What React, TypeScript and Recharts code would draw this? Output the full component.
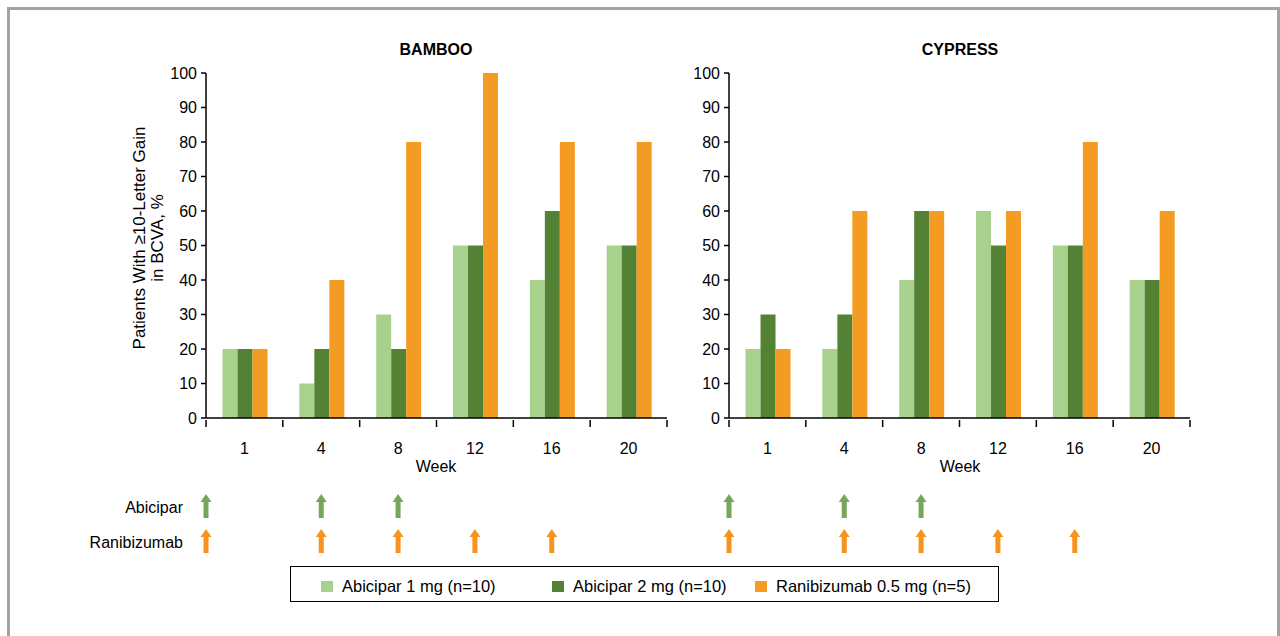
import { BarChart, Bar, XAxis, YAxis } from 'recharts'

const weeks = ['1', '4', '8', '12', '16', '20']
const yTicks = [0, 10, 20, 30, 40, 50, 60, 70, 80, 90, 100]

const bambooAbi1 = [20, 10, 30, 50, 40, 50]
const bambooAbi2 = [20, 20, 20, 50, 60, 50]
const bambooRani = [20, 40, 80, 100, 80, 80]

const cypressAbi1 = [20, 20, 40, 60, 50, 40]
const cypressAbi2 = [30, 30, 60, 50, 50, 40]
const cypressRani = [20, 60, 60, 60, 80, 60]

// dosing visits, week 0 = baseline (left edge of the axis)
const abiciparDoseWeeks = [0, 4, 8]
const ranibizumabDoseWeeks = [0, 4, 8, 12, 16]

const seriesNames = ['Abicipar 1 mg (n=10)', 'Abicipar 2 mg (n=10)', 'Ranibizumab 0.5 mg (n=5)']
const seriesColors = ['#a9d18e', '#548235', '#f39b22']
const arrowGreen = '#77a55a'
const arrowOrange = '#f7941d'

// legend swatch x positions inside the page
const legendLeft = [321, 552, 755]

const FONT = 'Arial, "Liberation Sans", sans-serif'

const buildRows = (a: number[], b: number[], c: number[]) =>
  weeks.map((w, i) => ({ week: w, abi1: a[i], abi2: b[i], rani: c[i] }))

const bambooData = buildRows(bambooAbi1, bambooAbi2, bambooRani)
const cypressData = buildRows(cypressAbi1, cypressAbi2, cypressRani)

function Arrow({ cx, top, color }: { cx: number; top: number; color: string }) {
  const d = `M${cx} ${top} L${cx + 5.5} ${top + 8} L${cx + 2.5} ${top + 8} L${cx + 2.5} ${top + 24} L${cx - 2.5} ${top + 24} L${cx - 2.5} ${top + 8} L${cx - 5.5} ${top + 8} Z`
  return <path d={d} fill={color} />
}

function WeekTick(props: any) {
  const { x, y, payload, index, width } = props
  const n = weeks.length
  const band = typeof width === 'number' && width > 0 ? width / n : (payload?.offset || 38.4) * 2
  const left = x - band / 2
  const wk = Number(payload.value)
  const arrows: any[] = []
  const addArrows = (doses: number[], top: number, color: string, key: string) => {
    if (index === 0 && doses.includes(0)) arrows.push(<Arrow key={key + 'b'} cx={left} top={top} color={color} />)
    if (wk !== 1 && doses.includes(wk)) arrows.push(<Arrow key={key} cx={x} top={top} color={color} />)
  }
  addArrows(abiciparDoseWeeks, y + 74, arrowGreen, 'a')
  addArrows(ranibizumabDoseWeeks, y + 109, arrowOrange, 'r')
  return (
    <g>
      <line x1={left} x2={left} y1={y} y2={y + 7} stroke="#000" strokeWidth={1.5} />
      {index === n - 1 && <line x1={x + band / 2} x2={x + band / 2} y1={y} y2={y + 7} stroke="#000" strokeWidth={1.5} />}
      <text x={x} y={y + 34} textAnchor="middle" fontSize={16} fill="#000" fontFamily={FONT}>
        {payload.value}
      </text>
      {arrows}
    </g>
  )
}

function Panel({ data, width, marginLeft, marginRight }: { data: any[]; width: number; marginLeft: number; marginRight: number }) {
  return (
    <BarChart
      width={width}
      height={570}
      data={data}
      margin={{ top: 73, right: marginRight, bottom: 122, left: marginLeft }}
      barCategoryGap="21.5%"
      barGap={0}
    >
      <XAxis
        dataKey="week"
        interval={0}
        height={30}
        tickSize={0}
        tickLine={false}
        axisLine={{ stroke: '#000', strokeWidth: 1.5 }}
        tick={WeekTick}
      />
      <YAxis
        domain={[0, 100]}
        ticks={yTicks}
        interval={0}
        width={50}
        tickSize={5}
        tickMargin={4}
        axisLine={{ stroke: '#000', strokeWidth: 1.5 }}
        tickLine={{ stroke: '#000', strokeWidth: 1.5 }}
        tick={{ fill: '#000', fontSize: 16, fontFamily: FONT }}
      />
      <Bar dataKey="abi1" fill={seriesColors[0]} isAnimationActive={false} />
      <Bar dataKey="abi2" fill={seriesColors[1]} isAnimationActive={false} />
      <Bar dataKey="rani" fill={seriesColors[2]} isAnimationActive={false} />
    </BarChart>
  )
}

const abs = (s: any) => ({ position: 'absolute' as const, ...s })

export default function App() {
  return (
    <div style={abs({ left: 0, top: 0, width: 1280, height: 636, overflow: 'hidden', background: '#fff', fontFamily: FONT, color: '#000' })}>
      <div style={abs({ left: 7, top: 7, width: 1273, height: 700, border: '3px solid #a3a3a3', boxSizing: 'border-box' })} />

      <div style={abs({ left: 0, top: 0 })}>
        <Panel data={bambooData} width={680} marginLeft={156} marginRight={13} />
      </div>
      <div style={abs({ left: 669, top: 0 })}>
        <Panel data={cypressData} width={541} marginLeft={10} marginRight={20} />
      </div>

      <div style={abs({ left: 336, top: 40, width: 200, textAlign: 'center', fontWeight: 'bold', fontSize: 16, lineHeight: '20px' })}>BAMBOO</div>
      <div style={abs({ left: 860, top: 40, width: 200, textAlign: 'center', fontWeight: 'bold', fontSize: 16, lineHeight: '20px' })}>CYPRESS</div>

      <div style={abs({ left: 336, top: 457, width: 200, textAlign: 'center', fontSize: 16, lineHeight: '20px' })}>Week</div>
      <div style={abs({ left: 860, top: 457, width: 200, textAlign: 'center', fontSize: 16, lineHeight: '20px' })}>Week</div>

      <div
        style={abs({
          left: 149 - 150,
          top: 238 - 18,
          width: 300,
          height: 36,
          textAlign: 'center',
          fontSize: 17,
          lineHeight: '18px',
          transform: 'rotate(-90deg)',
          transformOrigin: '150px 18px',
        })}
      >
        Patients With ≥10-Letter Gain
        <br />
        in BCVA, %
      </div>

      <div style={abs({ left: 33, top: 498, width: 150, textAlign: 'right', fontSize: 16, lineHeight: '20px' })}>Abicipar</div>
      <div style={abs({ left: 33, top: 533, width: 150, textAlign: 'right', fontSize: 16, lineHeight: '20px' })}>Ranibizumab</div>

      <div style={abs({ left: 290, top: 566, width: 709, height: 36, border: '1px solid #000', boxSizing: 'border-box' })} />
      {seriesNames.map((name, i) => (
        <div
          key={name}
          style={abs({ left: legendLeft[i], top: 576, height: 20, display: 'flex', alignItems: 'center', fontSize: 16.5, whiteSpace: 'nowrap' })}
        >
          <span style={{ display: 'inline-block', width: 12, height: 11, background: seriesColors[i], marginRight: 9 }} />
          <span>{name}</span>
        </div>
      ))}
    </div>
  )
}
